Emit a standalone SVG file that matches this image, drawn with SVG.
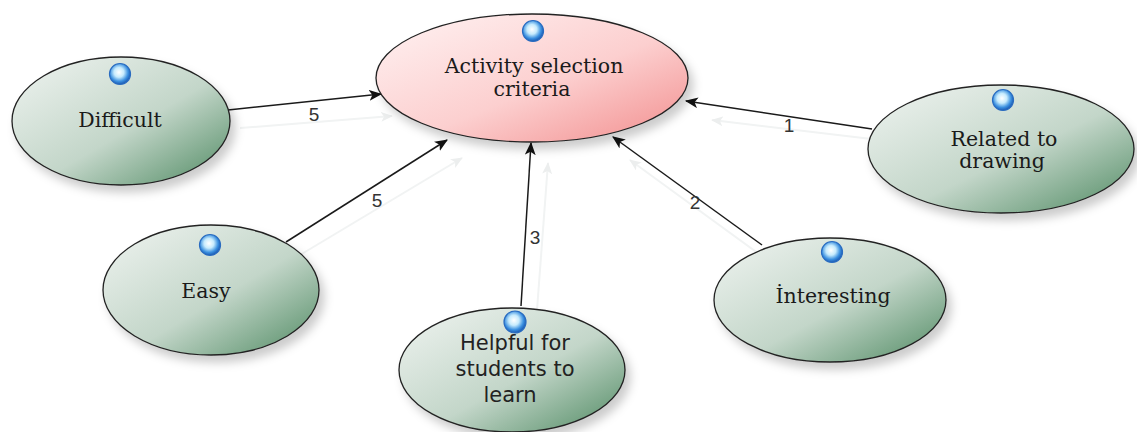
<svg xmlns="http://www.w3.org/2000/svg" width="1137" height="432" viewBox="0 0 1137 432">
  <defs>
    <linearGradient id="gGreen" x1="0" y1="0" x2="1" y2="1">
      <stop offset="0" stop-color="#f0f4f1"/>
      <stop offset="0.55" stop-color="#c3d6c9"/>
      <stop offset="1" stop-color="#4f8a62"/>
    </linearGradient>
    <linearGradient id="gPink" x1="0" y1="0" x2="1" y2="1">
      <stop offset="0" stop-color="#fff3f3"/>
      <stop offset="0.55" stop-color="#fccfcf"/>
      <stop offset="1" stop-color="#f28d8d"/>
    </linearGradient>
    <radialGradient id="gBall" cx="0.45" cy="0.42" r="0.58">
      <stop offset="0" stop-color="#ffffff"/>
      <stop offset="0.4" stop-color="#c6ebfd"/>
      <stop offset="0.75" stop-color="#3b90e0"/>
      <stop offset="1" stop-color="#1a58b0"/>
    </radialGradient>
    <filter id="shadow" x="-20%" y="-20%" width="150%" height="160%">
      <feDropShadow dx="5" dy="7" stdDeviation="5" flood-color="#000" flood-opacity="0.2"/>
    </filter>
    <marker id="arrow" viewBox="0 0 12 10" refX="11" refY="5" markerWidth="13" markerHeight="11" markerUnits="userSpaceOnUse" orient="auto">
      <path d="M0,0 L12,5 L0,10 L3,5 Z" fill="#111"/>
    </marker>
    <marker id="ghostArrow" viewBox="0 0 12 10" refX="11" refY="5" markerWidth="12" markerHeight="10" markerUnits="userSpaceOnUse" orient="auto">
      <path d="M0,0 L12,5 L0,10 L3,5 Z" fill="#eceeee"/>
    </marker>
  </defs>
  <style>
    .node { stroke: #222; stroke-width: 1.3; filter: url(#shadow); }
    .green { fill: url(#gGreen); }
    .pink { fill: url(#gPink); }
    .ball { fill: url(#gBall); stroke: #2a6cc0; stroke-width: 1.2; }
    .serif { font-family: "DejaVu Serif", "Liberation Serif", serif; font-size: 20.5px; fill: #1a1a1a; text-anchor: middle; }
    .sans { font-family: "DejaVu Sans", "Liberation Sans", sans-serif; font-size: 21px; fill: #222; text-anchor: middle; }
    .edge { stroke: #1a1a1a; stroke-width: 1.5; fill: none; marker-end: url(#arrow); }
    .ghost { stroke: #f1f3f3; stroke-width: 2; fill: none; marker-end: url(#ghostArrow); }
    .lbl { font-family: "Liberation Sans", Arial, sans-serif; font-size: 19px; fill: #333; text-anchor: middle; }
  </style>

  <rect width="1137" height="432" fill="#ffffff"/>

  <!-- faint shadow strokes behind the connectors -->
  <g id="connector-shadows">
    <path class="ghost" d="M240,128 L392,116"/>
    <path class="ghost" d="M300,255 L462,158"/>
    <path class="ghost" d="M537,310 L548,163"/>
    <path class="ghost" d="M770,262 L630,160"/>
    <path class="ghost" d="M880,140 L712,120"/>
  </g>

  <g id="connectors">
    <path class="edge" d="M228,110 L381,94"/>
    <text class="lbl" x="314" y="121">5</text>
    <path class="edge" d="M286,242 L447,140"/>
    <text class="lbl" x="377" y="207">5</text>
    <path class="edge" d="M521,306 L531,143"/>
    <text class="lbl" x="535" y="244">3</text>
    <path class="edge" d="M762,245 L613,137"/>
    <text class="lbl" x="695" y="209">2</text>
    <path class="edge" d="M872,129 L686,101"/>
    <text class="lbl" x="789" y="132">1</text>
  </g>

  <g id="node-center">
    <ellipse class="node pink" cx="532" cy="78" rx="156" ry="64"/>
    <circle class="ball" cx="533" cy="31" r="10.5"/>
    <text class="serif" x="534" y="73">Activity selection</text>
    <text class="serif" x="532" y="96">criteria</text>
  </g>

  <g id="node-difficult">
    <ellipse class="node green" cx="121" cy="121" rx="109" ry="64"/>
    <circle class="ball" cx="120" cy="74" r="10.5"/>
    <text class="serif" x="120" y="127">Difficult</text>
  </g>

  <g id="node-easy">
    <ellipse class="node green" cx="211" cy="290" rx="108" ry="65"/>
    <circle class="ball" cx="210" cy="245" r="10.5"/>
    <text class="serif" x="206" y="298">Easy</text>
  </g>

  <g id="node-helpful">
    <ellipse class="node green" cx="512" cy="370" rx="113" ry="62"/>
    <circle class="ball" cx="515" cy="322" r="11"/>
    <text class="sans" x="515" y="350">Helpful for</text>
    <text class="sans" x="515" y="376">students to</text>
    <text class="sans" x="510" y="402">learn</text>
  </g>

  <g id="node-interesting">
    <ellipse class="node green" cx="830" cy="300" rx="116" ry="62"/>
    <circle class="ball" cx="832" cy="252" r="10.5"/>
    <text class="serif" x="833" y="303">İnteresting</text>
  </g>

  <g id="node-related">
    <ellipse class="node green" cx="1001" cy="149" rx="133" ry="64"/>
    <circle class="ball" cx="1003" cy="100" r="10.5"/>
    <text class="serif" x="1004" y="146">Related to</text>
    <text class="serif" x="1002" y="168">drawing</text>
  </g>
</svg>
